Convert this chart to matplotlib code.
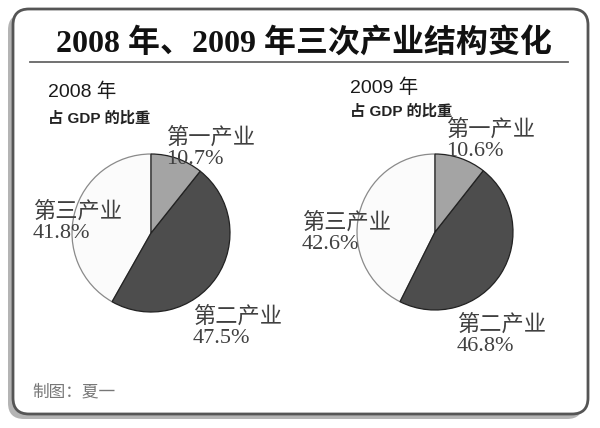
import matplotlib
matplotlib.use("Agg")
import matplotlib.pyplot as plt
from matplotlib.patches import FancyBboxPatch

# ---- data ----
title = "2008 年、2009 年三次产业结构变化"
years = ["2008 年", "2009 年"]
subtitle = "占 GDP 的比重"
categories = ["第一产业", "第二产业", "第三产业"]
share_2008 = [10.7, 47.5, 41.8]
share_2009 = [10.6, 46.8, 42.6]
credit = "制图：夏一"

W, H = 600, 428
fig = plt.figure(figsize=(6.0, 4.28), dpi=100)
ax = fig.add_axes([0, 0, 1, 1])

def Y(py):
    return H - py

# frame + shadow
shadow = FancyBboxPatch((8, Y(419)), 575, 405,
                        boxstyle="round,pad=0,rounding_size=16",
                        facecolor="#b4b4b4", edgecolor="none", zorder=0)
ax.add_patch(shadow)
frame = FancyBboxPatch((13, Y(414)), 575, 405,
                       boxstyle="round,pad=0,rounding_size=16",
                       facecolor="white", edgecolor="#555555", linewidth=2.0, zorder=1)
ax.add_patch(frame)

serif = ["Liberation Serif", "Noto Sans CJK SC"]
sans = ["Liberation Sans", "Noto Sans CJK SC"]

ax.text(304, Y(43), title, ha="center", va="center", fontsize=23,
        fontweight="bold", family=serif, color="#111111", zorder=5)
ax.plot([30, 568], [Y(62), Y(62)], color="#666666", linewidth=1.3, zorder=5)

colors = ["#a4a4a4", "#4d4d4d", "#fbfbfb"]

def draw_pie(values, center, radius):
    wedges, _ = ax.pie(values, colors=colors, startangle=90, counterclock=False,
                       center=center, radius=radius, frame=True,
                       wedgeprops=dict(edgecolor="#222222", linewidth=0.9))
    wedges[2].set_edgecolor("#8a8a8a")
    wedges[0].set_zorder(3.2)
    wedges[1].set_zorder(3.1)
    wedges[2].set_zorder(3.0)
    return wedges

draw_pie(share_2008, (151, Y(233)), 79)
draw_pie(share_2009, (435, Y(232)), 78)

# headers
hdr = [(48, 92, 118), (350, 88, 111)]
for (x, yy, ys), yr in zip(hdr, years):
    ax.text(x, Y(yy), yr, ha="left", va="center", fontsize=14, family=sans,
            fontweight="medium", color="#1a1a1a", zorder=5)
    ax.text(x, Y(ys), subtitle, ha="left", va="center", fontsize=11,
            fontweight="bold", family=sans, color="#222222", zorder=5)

# labels (top-left positions of each label block)
pos_2008 = [(166, 127), (193, 306), (33, 201)]
pos_2009 = [(446, 119), (457, 314), (302, 212)]
for positions, vals in ((pos_2008, share_2008), (pos_2009, share_2009)):
    for (x, y), cat, v in zip(positions, categories, vals):
        ax.text(x, Y(y), f"{cat}\n{v:.1f}%", ha="left", va="top", fontsize=16,
                family=serif, color="#404040", linespacing=1.1, zorder=5)

ax.text(32, Y(392), credit, ha="left", va="center", fontsize=12,
        family=sans, color="#777777", zorder=5)

ax.set_xlim(0, W)
ax.set_ylim(0, H)
ax.set_aspect("equal")
ax.axis("off")

fig.savefig("out.png", dpi=100)
